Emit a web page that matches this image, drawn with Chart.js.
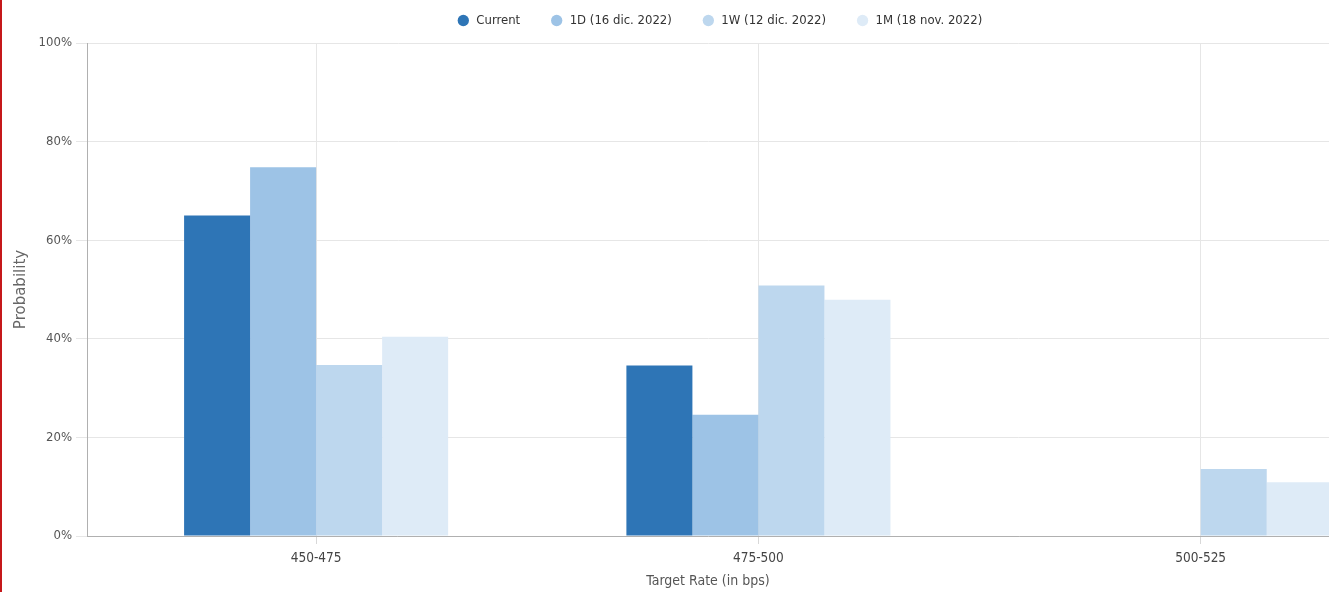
<!DOCTYPE html>
<html>
<head>
<meta charset="utf-8">
<script src="https://cdn.jsdelivr.net/npm/chart.js@4.4.0/dist/chart.umd.min.js"></script>
<style>
    html, body { margin: 0; padding: 0; background: #fff; overflow: hidden; }
    .wrap { position: relative; width: 1329px; height: 592px; }
    .red-edge { position: absolute; left: 0; top: 0; width: 2px; height: 592px; background: #c5181a; z-index: 2; }
</style>
</head>
<body>
<div class="wrap">
    <div class="red-edge"></div>
    <canvas id="rateChart" width="1329" height="592"></canvas>
</div>
<script>
const categories = ['450-475', '475-500', '500-525'];
const seriesNames = ['Current', '1D (16 dic. 2022)', '1W (12 dic. 2022)', '1M (18 nov. 2022)'];
const currentValues = [65.0, 34.6, 0];
const oneDayValues = [74.8, 24.6, 0];
const oneWeekValues = [34.7, 50.8, 13.6];
const oneMonthValues = [40.4, 47.9, 10.9];
const yTicks = [0, 20, 40, 60, 80, 100];

const seriesColors = ['#2e75b6', '#9dc3e6', '#bdd7ee', '#deebf7'];
const FONT = "'DejaVu Sans Condensed', 'DejaVu Sans', sans-serif";

function toPoints(values) {
    return values.map((v, i) => ({ x: i, y: v }));
}

const allValues = [currentValues, oneDayValues, oneWeekValues, oneMonthValues];

// keep the legend band a fixed height so the plot starts where the original does,
// and nudge it right (the original is centred on a wider, cropped chart)
const legendPlacement = {
    id: 'legendPlacement',
    beforeLayout(chart) {
        const lg = chart.legend;
        if (lg && !lg._fixed) {
            const fit = lg.fit;
            lg.fit = function () {
                fit.call(this);
                this.height = 59;
            };
            lg._fixed = true;
        }
    },
    afterLayout(chart) {
        if (chart.legend) {
            chart.legend.left += 110;
        }
    }
};

const ctx = document.getElementById('rateChart').getContext('2d');
new Chart(ctx, {
    type: 'bar',
    data: {
        datasets: allValues.map((vals, k) => ({
            label: seriesNames[k],
            data: toPoints(vals),
            backgroundColor: seriesColors[k],
            borderWidth: 0,
            categoryPercentage: 0.597,
            barPercentage: 1.0
        }))
    },
    options: {
        responsive: false,
        animation: false,
        layout: { padding: { top: -16, right: 0, left: 0, bottom: 0 } },
        scales: {
            x: {
                type: 'linear',
                min: -0.518,
                max: 2.29,
                offset: false,
                afterBuildTicks: (scale) => { scale.ticks = categories.map((_, i) => ({ value: i })); },
                afterFit: (scale) => { scale.height = 56; },
                ticks: {
                    includeBounds: false,
                    autoSkip: false,
                    maxRotation: 0,
                    padding: 6,
                    color: '#444',
                    font: { family: FONT, size: 13.5 },
                    callback: (v) => categories[v]
                },
                grid: { offset: false, color: '#e6e6e6', tickColor: '#d8d8d8', tickLength: 8 },
                border: { color: '#b0b0b0' },
                title: {
                    display: true,
                    text: 'Target Rate (in bps)',
                    color: '#555',
                    font: { family: FONT, size: 14 },
                    padding: { top: 2, bottom: 2 }
                }
            },
            y: {
                min: 0,
                max: 100,
                afterBuildTicks: (scale) => { scale.ticks = yTicks.map(v => ({ value: v })); },
                afterFit: (scale) => { scale.width = 87; },
                ticks: {
                    color: '#555',
                    padding: 4,
                    font: { family: FONT, size: 13 },
                    callback: (v) => v + '%'
                },
                grid: { color: '#e6e6e6', tickLength: 11 },
                border: { color: '#b0b0b0' },
                title: {
                    display: true,
                    text: 'Probability',
                    color: '#666',
                    font: { family: "'DejaVu Sans', sans-serif", size: 15 },
                    padding: { top: 12, bottom: 0 }
                }
            }
        },
        plugins: {
            legend: {
                position: 'top',
                labels: {
                    usePointStyle: true,
                    pointStyle: 'circle',
                    boxWidth: 13,
                    boxHeight: 8,
                    padding: 30,
                    color: '#333',
                    font: { family: FONT, size: 13 }
                }
            },
            tooltip: { enabled: false }
        }
    },
    plugins: [legendPlacement]
});
</script>
</body>
</html>
